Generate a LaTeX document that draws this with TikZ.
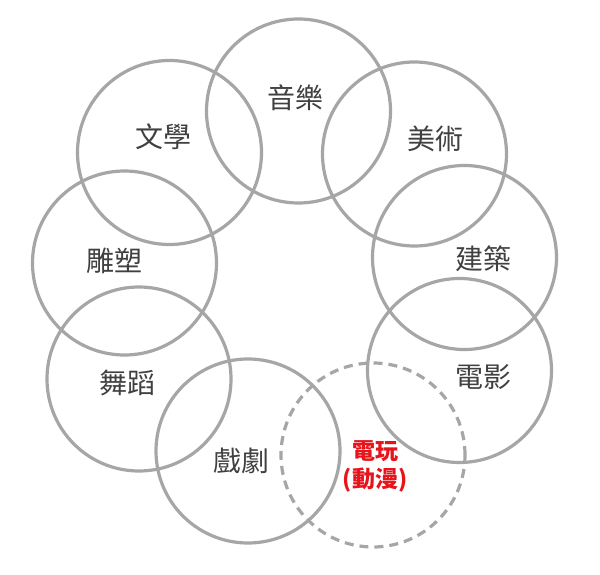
\documentclass[tikz,border=0pt]{standalone}
\usepackage{fontspec}
\newfontfamily\cjk{Noto Sans CJK TC}
\definecolor{ringgray}{HTML}{A6A6A6}
\definecolor{labelgray}{HTML}{404040}
\definecolor{gamered}{HTML}{E8141C}
\begin{document}
\begin{tikzpicture}[x=1pt,y=-1pt,
  ring/.style={draw=ringgray,line width=3.2pt,circle,minimum size=184pt,inner sep=0pt},
  dashring/.style={ring,dash pattern=on 9pt off 6pt},
  lbl/.style={font=\cjk\fontsize{28}{32}\selectfont,text=labelgray,inner sep=0pt},
  redlbl/.style={font=\cjk\bfseries\fontsize{23}{28}\selectfont,text=gamered,inner sep=0pt,align=center}]
\useasboundingbox (0,0) rectangle (600,575);
\fill[white] (0,0) rectangle (600,575);
\node[ring] (c1) at (298.5,111) {};
\node[ring] (c2) at (169.5,152.5) {};
\node[ring] (c3) at (414.5,154) {};
\node[ring] (c4) at (124.5,263) {};
\node[ring] (c5) at (464.5,257.5) {};
\node[ring] (c6) at (139,379) {};
\node[ring] (c7) at (459.5,370.5) {};
\node[ring] (c8) at (248,451) {};
\node[dashring] (c9) at (373,455) {};
\node[lbl] (t1) at (295,98) {音樂};
\node[lbl] (t2) at (163,137) {文學};
\node[lbl] (t3) at (435.5,139) {美術};
\node[lbl] (t4) at (114,261) {雕塑};
\node[lbl] (t5) at (483,259) {建築};
\node[lbl] (t6) at (127,383) {舞蹈};
\node[lbl] (t7) at (483,377) {電影};
\node[lbl] (t8) at (241,461) {戲劇};
\node[redlbl] (t9) at (375,466) {電玩\\(動漫)};
\end{tikzpicture}
\end{document}
